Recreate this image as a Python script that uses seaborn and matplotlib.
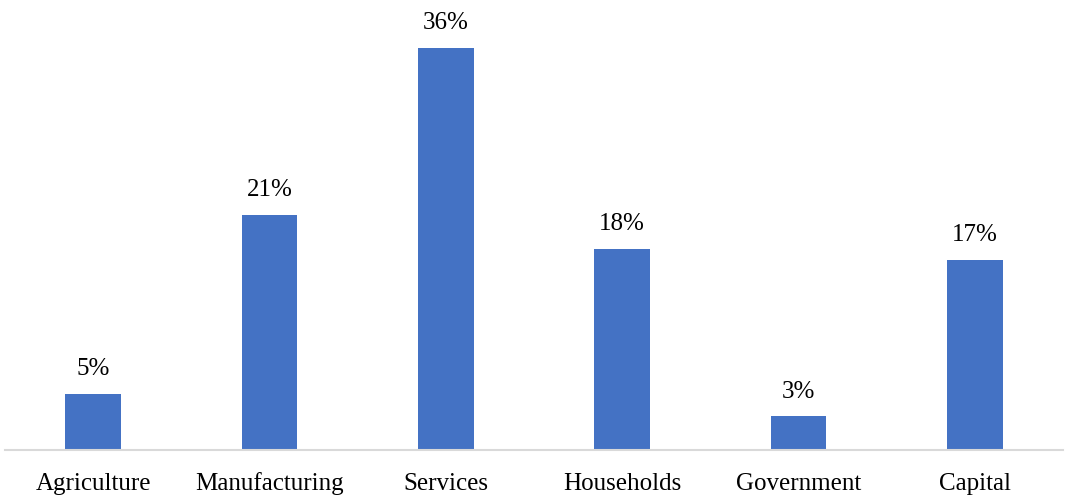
import matplotlib
matplotlib.use("Agg")
import matplotlib.pyplot as plt
import seaborn as sns
import pandas as pd

categories = ["Agriculture", "Manufacturing", "Services", "Households", "Government", "Capital"]
shares = [5, 21, 36, 18, 3, 17]

df = pd.DataFrame({"category": categories, "share": shares})

sns.set_theme(style="white")
plt.rcParams["font.family"] = ["Liberation Serif", "DejaVu Serif"]

fig = plt.figure(figsize=(10.68, 4.97), dpi=100)
ax = fig.add_axes([5 / 1068, 47 / 497, 1058 / 1068, 447 / 497])

sns.barplot(data=df, x="category", y="share", color="#4472C4", saturation=1,
            width=0.316, linewidth=0, ax=ax)

for patch, val in zip(ax.patches, shares):
    ax.annotate(f"{val}%", (patch.get_x() + patch.get_width() / 2, patch.get_height()),
                xytext=(0, 10), textcoords="offset points", ha="center", va="bottom",
                fontsize=18, color="black")

ax.set_ylim(0, 40)
ax.set_xlim(-0.5, len(categories) - 0.5)
ax.set_xlabel("")
ax.set_ylabel("")
ax.set_yticks([])
ax.tick_params(axis="x", length=0, pad=28.5, labelsize=18, labelcolor="black")
for lbl in ax.get_xticklabels():
    lbl.set_verticalalignment("baseline")
for side in ["top", "right", "left"]:
    ax.spines[side].set_visible(False)
ax.spines["bottom"].set_color("#D9D9D9")
ax.spines["bottom"].set_linewidth(1.5)

fig.savefig("out.png", dpi=100)
